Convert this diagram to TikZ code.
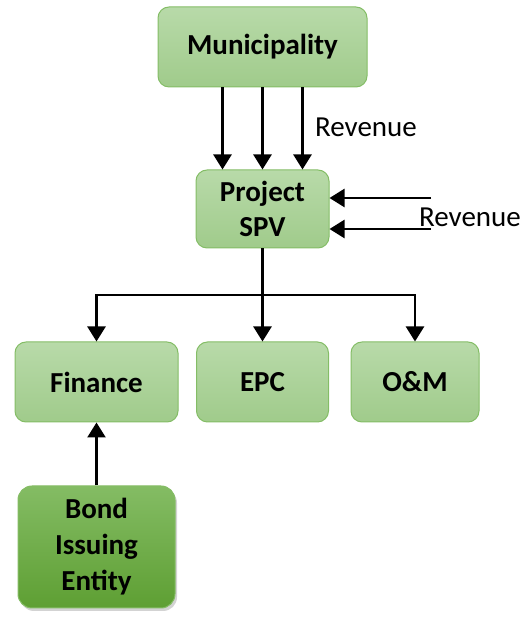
\documentclass[tikz,border=0pt]{standalone}
\usepackage{fontspec}
\setmainfont{Carlito}
\usetikzlibrary{arrows.meta,shadows}

\definecolor{boxtop}{HTML}{B8DAA9}
\definecolor{boxbot}{HTML}{A0CB8B}
\definecolor{boxline}{HTML}{84BD66}
\definecolor{bondtop}{HTML}{84BC64}
\definecolor{bondbot}{HTML}{5E9F33}

\tikzset{
	entity/.style={draw=boxline, line width=1pt, rounded corners=11pt, top color=boxtop, bottom color=boxbot,
		align=center, font=\fontsize{29}{35}\selectfont\bfseries, inner sep=0pt},
	bondbox/.style={draw=bondtop, line width=1pt, rounded corners=14pt, top color=bondtop, bottom color=bondbot,
		align=center, font=\fontsize{29}{36}\selectfont\bfseries, inner sep=0pt,
		drop shadow={shadow xshift=2pt, shadow yshift=-3pt, opacity=0.35}},
	flow/.style={-{Triangle[width=18pt,length=15pt]}, line width=2.5pt},
	lbl/.style={font=\fontsize{29}{30}\selectfont}
}

\begin{document}
\begin{tikzpicture}[x=1pt,y=1pt]
	\useasboundingbox (0,0) rectangle (522,618);

	% Top level
	\node[entity, minimum width=209pt, minimum height=80pt] (muni) at (262.5,571) {Municipality};
	\node[entity, minimum width=133pt, minimum height=78pt] (spv) at (262.5,409) {Project\\SPV};

	% Contractors
	\node[entity, minimum width=163pt, minimum height=80pt] (fin) at (96.5,236) {Finance};
	\node[entity, minimum width=132pt, minimum height=80pt] (epc) at (262.5,236) {EPC};
	\node[entity, minimum width=128pt, minimum height=80pt] (om) at (415,236) {O\&M};

	% Bond issuer
	\node[bondbox, minimum width=157pt, minimum height=122pt] (bond) at (96.5,71) {Bond\\Issuing\\Entity};

	% Revenue from municipality
	\draw[flow] ([xshift=-40pt]muni.south) -- ([xshift=-40pt]spv.north);
	\draw[flow] (muni.south) -- (spv.north);
	\draw[flow] ([xshift=40pt]muni.south) -- ([xshift=40pt]spv.north);
	\node[lbl] (rev1) at (366,491) {Revenue};

	% Other revenue
	\coordinate (inA) at (431,420);
	\coordinate (inB) at (431,389);
	\draw[flow] (inA) -- (spv.east |- inA);
	\draw[flow] (inB) -- (spv.east |- inB);
	\node[lbl] (rev2) at (470,401) {Revenue};

	% Split to contractors
	\coordinate (split) at (spv.south |- 0,323);
	\draw[flow] (spv.south) -- (epc.north);
	\draw[flow, line join=miter] (split) -| (fin.north);
	\draw[flow, line join=miter] (split) -| (om.north);

	% Bond to finance
	\draw[flow] (bond.north) -- (fin.south);

\end{tikzpicture}
\end{document}
